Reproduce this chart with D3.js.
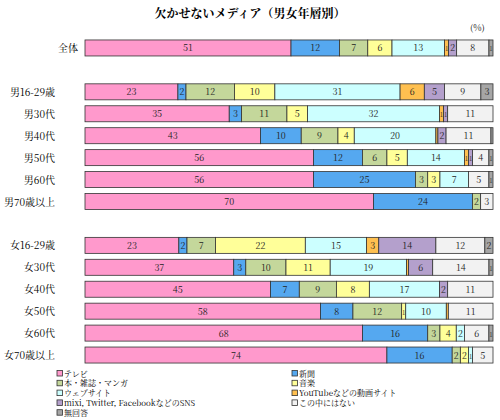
<!DOCTYPE html><html><head><meta charset="utf-8"><script src="https://cdn.jsdelivr.net/npm/d3@7"></script>
<style>body{margin:0;background:#fff}text{font-family:"Noto Serif CJK JP","Noto Sans CJK JP",serif}</style></head><body><svg id="c" width="500" height="420"></svg><script>
const series=["テレビ","新聞","本・雑誌・マンガ","音楽","ウェブサイト","YouTubeなどの動画サイト","mixi, Twitter, FacebookなどのSNS","この中にはない","無回答"];
const colors=["#ff99cc","#55a8f0","#c4d79b","#ffff99","#ccffff","#ffc050","#b4a0cc","#f2f2f2","#a6a6a6"];
const categories=["全体","gap1","男16-29歳","男30代","男40代","男50代","男60代","男70歳以上","gap2","女16-29歳","女30代","女40代","女50代","女60代","女70歳以上"];
const values={
"全体":[51,12,7,6,13,1,2,8,1],
"男16-29歳":[23,2,12,10,31,6,5,9,3],
"男30代":[35,3,11,5,32,1,1,11,0],
"男40代":[43,10,9,4,20,0.5,2,11,0.5],
"男50代":[56,12,6,5,14,1,1,4,1],
"男60代":[56,25,3,3,7,0,0,5,1],
"男70歳以上":[70,24,2,0,0,0,0,3,0],
"女16-29歳":[23,2,7,22,15,3,14,12,2],
"女30代":[37,3,10,11,19,0.5,6,14,1],
"女40代":[45,7,9,8,17,0,2,11,0],
"女50代":[58,8,12,1,10,0.5,0,11,0],
"女60代":[68,16,3,4,2,0,0,6,1],
"女70歳以上":[74,16,2,2,1,0,0,5,0]};
const svg=d3.select("#c");
const y=d3.scaleBand().domain(categories).range([37,366]).paddingInner(0.27).paddingOuter(0.135);
svg.append("text").attr("x",250).attr("y",18).attr("text-anchor","middle").attr("font-size",12).attr("font-weight","bold").text("欠かせないメディア（男女年層別）");
svg.append("text").attr("x",470).attr("y",31).attr("font-size",9).text("(%)");
categories.filter(c=>values[c]).forEach(c=>{
 const v=values[c],tot=d3.sum(v);
 const x=d3.scaleLinear().domain([0,tot]).range([85,493]);
 let acc=0;const g=svg.append("g");
 v.forEach((d,i)=>{const x0=x(acc);acc+=d;const x1=x(acc);if(d<=0)return;
  g.append("rect").attr("x",x0).attr("y",y(c)).attr("width",x1-x0).attr("height",y.bandwidth()).attr("fill",colors[i]).attr("stroke","#333").attr("stroke-width",0.8);
  if(d>=1)g.append("text").attr("x",(x0+x1)/2).attr("y",y(c)+y.bandwidth()/2+3.5).attr("text-anchor","middle").attr("font-size",d<2&&(x1-x0)<6?6:9).attr("fill","#222").text(Math.round(d));
 });
 svg.append("text").attr("x",c==="全体"?78:55).attr("y",y(c)+y.bandwidth()/2+4).attr("text-anchor","end").attr("font-size",10).text(c);
});
series.forEach((s,i)=>{const col=i%2,row=Math.floor(i/2);
 const lx=col?292:57,ly=376+row*9.8;
 svg.append("rect").attr("x",lx).attr("y",ly-5.5).attr("width",5.5).attr("height",5.5).attr("fill",colors[i]).attr("stroke","#333").attr("stroke-width",0.8);
 svg.append("text").attr("x",lx+7).attr("y",ly+0.5).attr("font-size",8).text(s);});
</script></body></html>
